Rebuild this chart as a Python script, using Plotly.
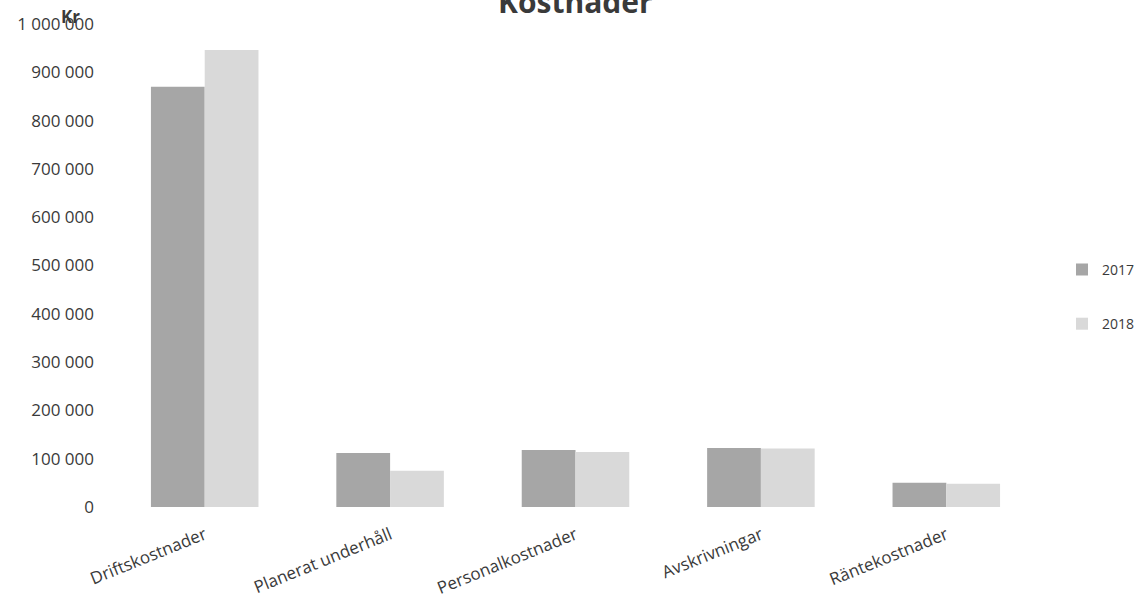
import plotly.graph_objects as go

categories = ["Driftskostnader", "Planerat underhåll", "Personalkostnader", "Avskrivningar", "Räntekostnader"]
values_2017 = [870000, 112000, 118000, 122000, 50000]
values_2018 = [946000, 75000, 114000, 121000, 48000]
series_names = ["2017", "2018"]
colors = ["#a6a6a6", "#d9d9d9"]
title_text = "Kostnader"
y_unit = "Kr"

FONT = "Open Sans"
TXT = "#3a3a3a"

fig = go.Figure()
for name, vals, col in zip(series_names, [values_2017, values_2018], colors):
    fig.add_trace(go.Bar(x=categories, y=vals, name=name, marker=dict(color=col, line=dict(width=0)),
                         legendgroup=name))

fig.update_layout(
    width=1139, height=601,
    margin=dict(l=112, r=100, t=24, b=94, autoexpand=False),
    paper_bgcolor="white", plot_bgcolor="white",
    barmode="group", bargap=0.42, bargroupgap=0,
    separators=", ",
    font=dict(family=FONT, color=TXT),
    showlegend=True,
    legend=dict(xref="container", x=1062/1139, xanchor="left", y=0.435, yanchor="middle", tracegroupgap=33,
                font=dict(size=14, color=TXT, family=FONT), bgcolor="rgba(0,0,0,0)"),
    xaxis=dict(showgrid=False, showline=False, zeroline=False, ticks="", tickangle=-22,
               ticklabelstandoff=14,
               tickfont=dict(size=17, color=TXT, family=FONT)),
    yaxis=dict(range=[0, 1000000], dtick=100000, tickformat=",", showgrid=False, showline=False,
               zeroline=False, ticks="", ticklabelstandoff=17,
               tickfont=dict(size=17, color=TXT, family=FONT)),
)

fig.add_annotation(text="<b>" + title_text + "</b>", xref="paper", yref="paper", x=0.5, y=1.046,
                   xanchor="center", yanchor="middle", showarrow=False,
                   font=dict(size=30, color=TXT, family=FONT))
fig.add_annotation(text="<b>" + y_unit + "</b>", xref="paper", yref="paper", x=-0.0453, y=1.0145,
                   xanchor="center", yanchor="middle", showarrow=False,
                   font=dict(size=17, color=TXT, family=FONT))

fig.write_html("out.html")
